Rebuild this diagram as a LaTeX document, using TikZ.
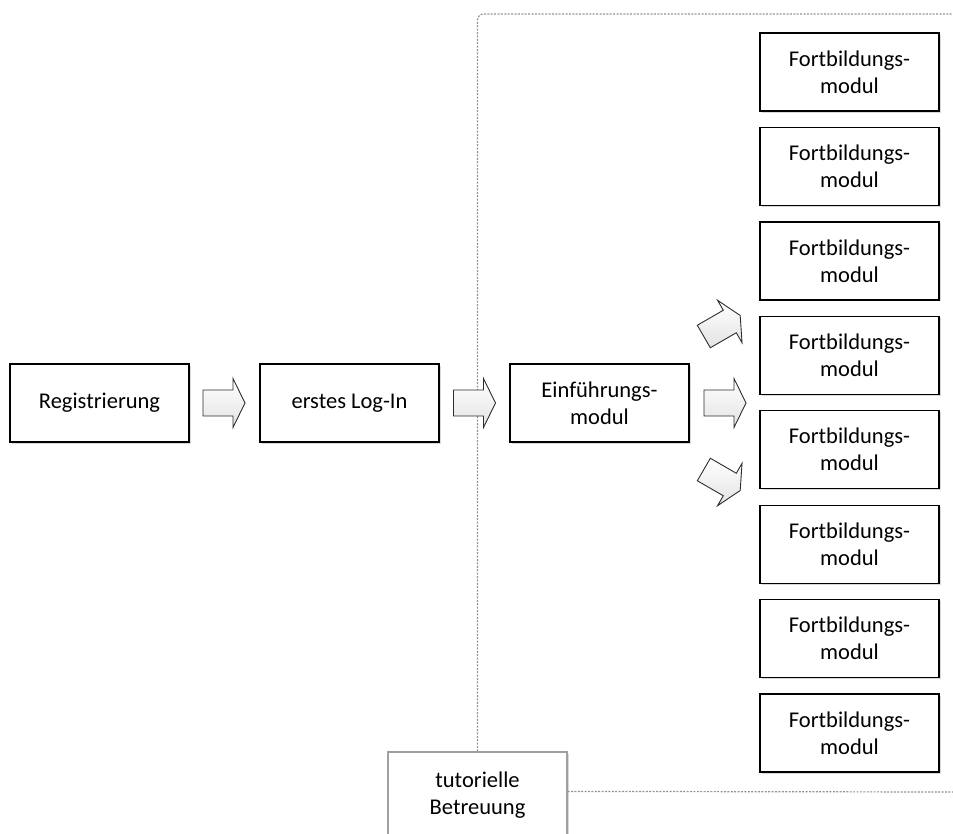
\documentclass[tikz,border=0pt]{standalone}
\usepackage{fontspec}
\setmainfont{Carlito}
\usetikzlibrary{shadows,calc}

\begin{document}
\begin{tikzpicture}[x=1pt,y=-1pt,
  box/.style={draw=black, line width=1.3pt, fill=white,
    minimum width=179pt, minimum height=78pt, align=center,
    font=\fontsize{22.5}{27}\selectfont,
    drop shadow={shadow xshift=1.6pt, shadow yshift=-1.6pt, fill=gray!50, opacity=0.6}},
  support/.style={box, draw=gray!75, line width=1.2pt, minimum height=86pt},
  arrowbody/.style={draw=gray!35!black, line width=0.9pt, line join=miter,
    top color=white, bottom color=gray!22},
  boundary/.style={draw=gray!85, line width=1.2pt, dash pattern=on 2pt off 1.4pt},
  blockarrow/.pic={
    \path[arrowbody] (-21,-13) -- (9,-13) -- (9,-24.5) -- (21,0)
      -- (9,24.5) -- (9,13) -- (-21,13) -- cycle;
  }]

\useasboundingbox (0,0) rectangle (953,833);

% main path
\node[box] (reg)   at (99.5,403)  {Registrierung};
\node[box] (login) at (349.5,403) {erstes Log-In};
\node[box] (intro) at (599.5,403) {Einführungs-\\modul};

% tutor support framing the course area
\node[support] (tutor) at (477.5,795) {tutorielle\\Betreuung};
\coordinate (frameTR) at (953,14);
\coordinate (frameBR) at (953,792);
\draw[boundary, rounded corners=6pt] (tutor.north) -- (477.5,14) -- (frameTR);
\draw[boundary] ($(tutor.north east)+(0,40)$) -- (frameBR);

% further training modules
\foreach \i in {0,...,7}{
  \node[box] (mod\i) at (849.5,{72+94.43*\i}) {Fortbildungs-\\modul};
}

% block arrows
\pic (a1) at (224,403) {blockarrow};
\pic (a2) at (474.5,403) {blockarrow};
\pic (a3) at (725,403) {blockarrow};
\pic[rotate=30]  (a4) at (722,326) {blockarrow};
\pic[rotate=-30] (a5) at (722,480) {blockarrow};

\end{tikzpicture}
\end{document}
